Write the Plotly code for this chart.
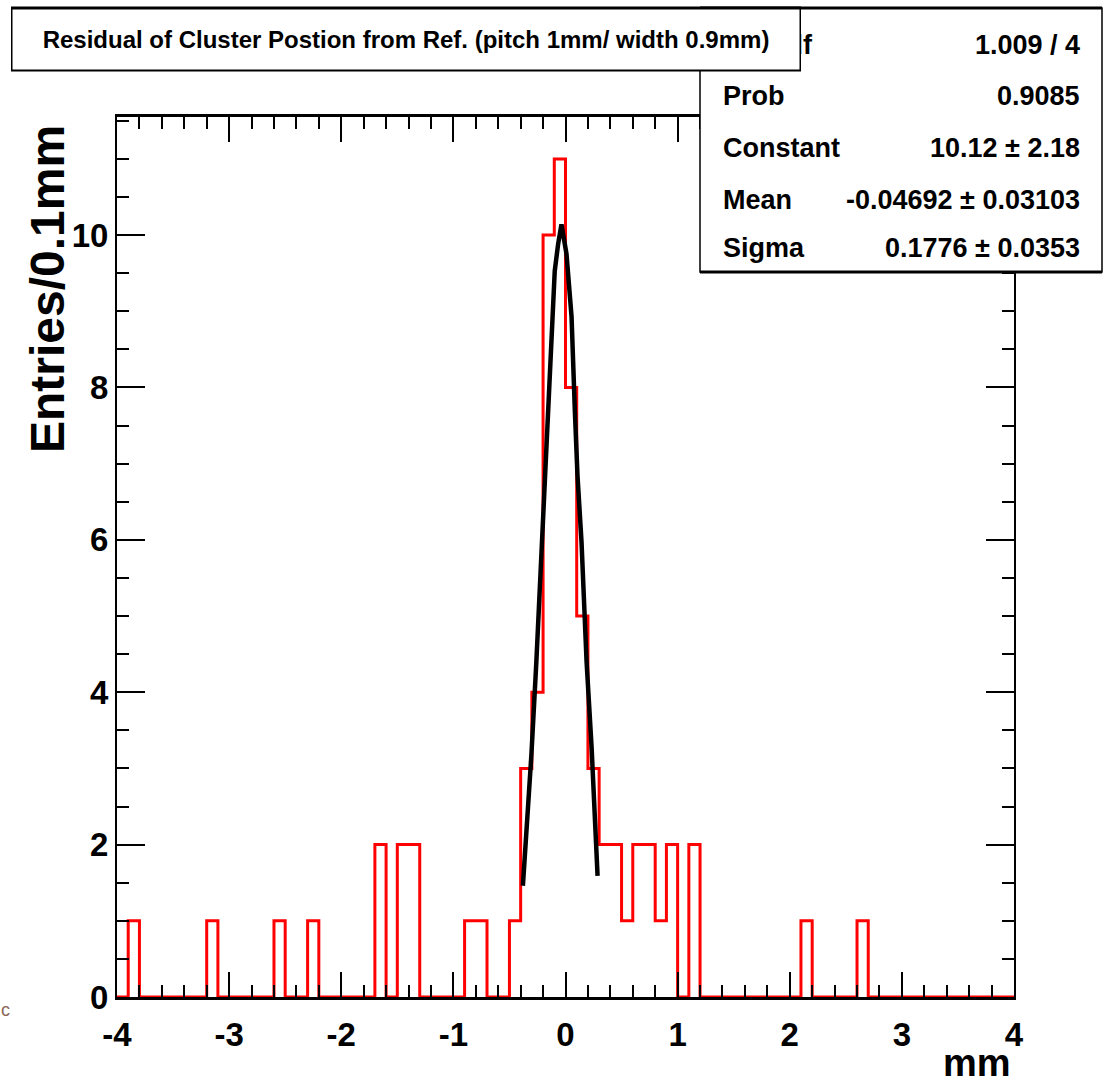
import plotly.graph_objects as go

# histogram: 80 bins of 0.1 mm from -4 to 4
bin_lo = -4.0
bin_w = 0.1
counts = [0, 1, 0, 0, 0, 0, 0, 0, 1, 0,
          0, 0, 0, 0, 1, 0, 0, 1, 0, 0,
          0, 0, 0, 2, 0, 2, 2, 0, 0, 0,
          0, 1, 1, 0, 0, 1, 3, 4, 10, 11,
          8, 5, 3, 2, 2, 1, 2, 2, 1, 2,
          0, 2, 0, 0, 0, 0, 0, 0, 0, 0,
          0, 1, 0, 0, 0, 0, 1, 0, 0, 0,
          0, 0, 0, 0, 0, 0, 0, 0, 0, 0]

# gaussian fit curve as drawn
fit_x = [-0.38, -0.349, -0.304, -0.26, -0.23, -0.17, -0.125, -0.096, -0.066, -0.036,
         0.009, 0.054, 0.083, 0.107, 0.143, 0.188, 0.233, 0.262, 0.286]
fit_y = [1.46, 2.14, 3.18, 4.40, 5.36, 7.27, 8.75, 9.53, 9.88, 10.14,
         9.75, 8.93, 7.71, 6.84, 5.97, 4.40, 3.27, 2.22, 1.59]

x_ticks = [-4, -3, -2, -1, 0, 1, 2, 3, 4]
x_ticktext = ["-4", "-3", "-2", "-1", "0", "1", "2", "3", "4"]

stat_labels = ["χ² / ndf", "Prob", "Constant", "Mean", "Sigma"]
stat_values = ["1.009 / 4", "0.9085", "10.12 ± 2.18", "-0.04692 ± 0.03103", "0.1776 ± 0.0353"]

title = "Residual of Cluster Postion from Ref. (pitch 1mm/ width 0.9mm)"

FONT = "Liberation Sans, Arial, Helvetica"

# step outline
edges = [bin_lo + bin_w * i for i in range(len(counts) + 1)]
step_y = counts + [counts[-1]]

# plot frame in pixels
L, R, T, B = 117, 1014, 117, 997
W, H = 1108, 1084


def px(x):
    return (x - L) / (R - L)


def py(y):
    return (B - y) / (B - T)


fig = go.Figure()
fig.add_trace(go.Scatter(x=edges, y=step_y, mode="lines", line_shape="hv",
                         line=dict(color="#ff0000", width=3), hoverinfo="skip"))
fig.add_trace(go.Scatter(x=fit_x, y=fit_y, mode="lines",
                         line=dict(color="black", width=4.5), hoverinfo="skip"))

shapes = []
# stats box
shapes.append(dict(type="rect", xref="paper", yref="paper",
                   x0=px(700), x1=px(1102), y0=py(272), y1=py(8),
                   fillcolor="white", line=dict(color="black", width=1.5)))
shapes.append(dict(type="line", xref="paper", yref="paper",
                   x0=px(700), x1=px(1102), y0=py(272), y1=py(272),
                   line=dict(color="black", width=3)))
shapes.append(dict(type="line", xref="paper", yref="paper",
                   x0=px(700), x1=px(1102), y0=py(8), y1=py(8),
                   line=dict(color="black", width=3)))
# title box thick edges
shapes.append(dict(type="line", xref="paper", yref="paper",
                   x0=px(11), x1=px(801), y0=py(70), y1=py(70),
                   line=dict(color="black", width=3)))
shapes.append(dict(type="line", xref="paper", yref="paper",
                   x0=px(11), x1=px(801), y0=py(8), y1=py(8),
                   line=dict(color="black", width=3)))

annotations = []
row_y = [45, 96, 148, 200, 248]
for lab, val, yy in zip(stat_labels, stat_values, row_y):
    annotations.append(dict(xref="paper", yref="paper", x=px(721), y=py(yy),
                            xanchor="left", yanchor="middle", showarrow=False,
                            text=lab, font=dict(family=FONT, size=27, color="black", weight="bold")))
    annotations.append(dict(xref="paper", yref="paper", x=px(1082), y=py(yy),
                            xanchor="right", yanchor="middle", showarrow=False,
                            text=val, font=dict(family=FONT, size=27, color="black", weight="bold")))

# title box drawn last so it hides the start of the stats box
annotations.append(dict(xref="paper", yref="paper", x=px(11), y=py(8),
                        xanchor="left", yanchor="top", showarrow=False,
                        text=title, width=787, height=60, borderpad=0,
                        bgcolor="white", bordercolor="black", borderwidth=1.5,
                        font=dict(family=FONT, size=24, color="black", weight="bold")))

annotations.append(dict(xref="paper", yref="paper", x=px(1013), y=py(1063),
                        xanchor="right", yanchor="middle", showarrow=False,
                        text="mm", font=dict(family=FONT, size=38, color="black", weight="bold")))
annotations.append(dict(xref="paper", yref="paper", x=px(47), y=py(289),
                        xanchor="center", yanchor="middle", showarrow=False, textangle=-90,
                        text="Entries/0.1mm",
                        font=dict(family=FONT, size=48, color="black", weight="bold")))
annotations.append(dict(xref="paper", yref="paper", x=px(5), y=py(1010),
                        xanchor="center", yanchor="middle", showarrow=False,
                        text="c", font=dict(family=FONT, size=18, color="#8a6655")))

fig.update_layout(
    width=W, height=H,
    margin=dict(l=L, r=W - R, t=T, b=H - B),
    paper_bgcolor="white", plot_bgcolor="white",
    showlegend=False,
    shapes=shapes, annotations=annotations,
    xaxis=dict(range=[-4, 4], tickvals=x_ticks, ticktext=x_ticktext,
               ticks="inside", ticklen=25, tickwidth=2,
               tickcolor="black", showline=True, linecolor="black", linewidth=3,
               mirror="ticks", showgrid=False, zeroline=False, ticklabelstandoff=6,
               tickfont=dict(family=FONT, size=33, color="black", weight="bold"),
               minor=dict(dtick=0.2, ticks="inside", ticklen=12, tickwidth=1.5, tickcolor="black")),
    yaxis=dict(range=[0, 11.55], dtick=2, tick0=0, ticks="inside", ticklen=28, tickwidth=2,
               tickcolor="black", showline=True, linecolor="black", linewidth=2,
               mirror="ticks", showgrid=False, zeroline=False,
               tickfont=dict(family=FONT, size=33, color="black", weight="bold"),
               minor=dict(dtick=0.5, ticks="inside", ticklen=12, tickwidth=1.5, tickcolor="black")),
)

fig.write_html("out.html", config={"displayModeBar": False},
               post_script="document.body.style.margin='0px';")
